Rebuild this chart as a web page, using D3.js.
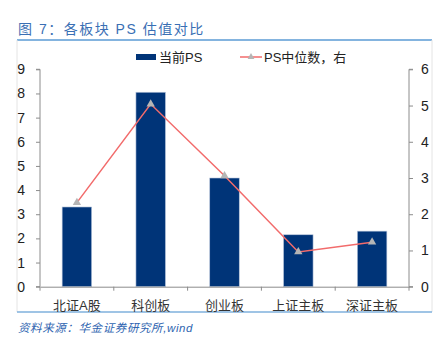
<!DOCTYPE html>
<html><head><meta charset="utf-8">
<script src="https://cdn.jsdelivr.net/npm/d3@7"></script>
<style>body{margin:0;background:#fff}svg{display:block}</style>
</head><body>
<svg id="c" width="444" height="345"></svg>
<script>
const categories = ["北证A股","科创板","创业板","上证主板","深证主板"];
const psCurrent = [3.3, 8.05, 4.5, 2.15, 2.3];
const psMedian = [2.32, 5.04, 3.06, 0.96, 1.23];
const leftTicks = [0,1,2,3,4,5,6,7,8,9];
const rightTicks = [0,1,2,3,4,5,6];
const title = "图 7：各板块 PS 估值对比";
const source = "资料来源：华金证券研究所,wind";
const legendLabels = ["当前PS","PS中位数，右"];

const svg = d3.select("#c");
const font = "'Liberation Sans', Arial, 'Noto Sans CJK SC', sans-serif";
const x0 = 40, x1 = 409, yTop = 69.3, yBot = 286.7;

// title
svg.append("text").attr("x",18).attr("y",34).text(title)
  .attr("font-family",font).attr("font-size",14).attr("fill","#3a6fb4").attr("letter-spacing",1.5);
svg.append("line").attr("x1",17).attr("x2",432).attr("y1",40).attr("y2",40).attr("stroke","#5b9bd5").attr("stroke-width",1.5);
// frame
svg.append("line").attr("x1",17).attr("x2",17).attr("y1",40).attr("y2",312).attr("stroke","#e4e4e4");
svg.append("line").attr("x1",432).attr("x2",432).attr("y1",40).attr("y2",312).attr("stroke","#e4e4e4");
svg.append("line").attr("x1",17).attr("x2",432).attr("y1",312).attr("y2",312).attr("stroke","#7fb0dc").attr("stroke-width",1.5);
// source
svg.append("text").attr("x",18).attr("y",332).text(source)
  .attr("font-family",font).attr("font-size",11.5).attr("letter-spacing",0.6).attr("font-style","italic").attr("fill","#2e64b0");

const x = d3.scaleBand().domain(categories).range([x0,x1]);
const yL = d3.scaleLinear().domain([0,9]).range([yBot,yTop]);
const yR = d3.scaleLinear().domain([0,6]).range([yBot,yTop]);

// bars
const bw = x.bandwidth()*0.4;
svg.append("g").selectAll("rect").data(psCurrent).join("rect")
  .attr("x",(d,i)=>x(categories[i])+x.bandwidth()/2-bw/2)
  .attr("width",bw)
  .attr("y",d=>yL(d)).attr("height",d=>yBot-yL(d))
  .attr("fill","#003478").attr("stroke","#b8c6dc").attr("stroke-width",0.6);

// axes
const axisColor = "#8c8c8c";
const gL = svg.append("g").attr("transform",`translate(${x0},0)`)
  .call(d3.axisLeft(yL).tickValues(leftTicks).tickSize(4).tickPadding(11).tickFormat(d3.format("d")));
const gR = svg.append("g").attr("transform",`translate(${x1},0)`)
  .call(d3.axisRight(yR).tickValues(rightTicks).tickSize(4).tickPadding(8).tickFormat(d3.format("d")));
const gX = svg.append("g").attr("transform",`translate(0,${yBot})`)
  .call(d3.axisBottom(x).tickSize(0).tickPadding(14));
// category boundary ticks
svg.append("g").selectAll("line").data(categories.concat([null])).join("line")
  .attr("x1",(d,i)=>x0+i*x.step()).attr("x2",(d,i)=>x0+i*x.step())
  .attr("y1",yBot).attr("y2",yBot+4).attr("stroke",axisColor);
[gL,gR].forEach(g=>{
  g.selectAll("path,line").attr("stroke",axisColor);
  g.selectAll("text").attr("font-family",font).attr("font-size",14).attr("fill","#222");
  g.select(".domain").attr("d", g===gL ? `M-4,${yTop}H0V${yBot}H-4` : `M4,${yTop}H0V${yBot}H4`);
});
gX.select(".domain").attr("stroke",axisColor);
gX.selectAll("text").attr("font-family",font).attr("font-size",13).attr("fill","#333");

// line
const line = d3.line().x((d,i)=>x(categories[i])+x.bandwidth()/2).y(d=>yR(d));
svg.append("path").datum(psMedian).attr("d",line).attr("fill","none").attr("stroke","#f26b6b").attr("stroke-width",1.5);
const tri = d3.symbol().type(d3.symbolTriangle).size(30);
svg.append("g").selectAll("path").data(psMedian).join("path")
  .attr("d",tri).attr("transform",(d,i)=>`translate(${x(categories[i])+x.bandwidth()/2},${yR(d)})`)
  .attr("fill","#b5b5b5");

// legend
const lg = svg.append("g");
lg.append("rect").attr("x",136).attr("y",54).attr("width",20).attr("height",6).attr("fill","#003478");
lg.append("text").attr("x",159).attr("y",62).text(legendLabels[0]).attr("font-family",font).attr("font-size",13).attr("fill","#222");
lg.append("line").attr("x1",240).attr("x2",262).attr("y1",57).attr("y2",57).attr("stroke","#f26b6b").attr("stroke-width",1.5);
lg.append("path").attr("d",d3.symbol().type(d3.symbolTriangle).size(20)).attr("transform","translate(251,57)").attr("fill","#b5b5b5");
lg.append("text").attr("x",264).attr("y",62).text(legendLabels[1]).attr("font-family",font).attr("font-size",13).attr("fill","#222");
</script>
</body></html>
